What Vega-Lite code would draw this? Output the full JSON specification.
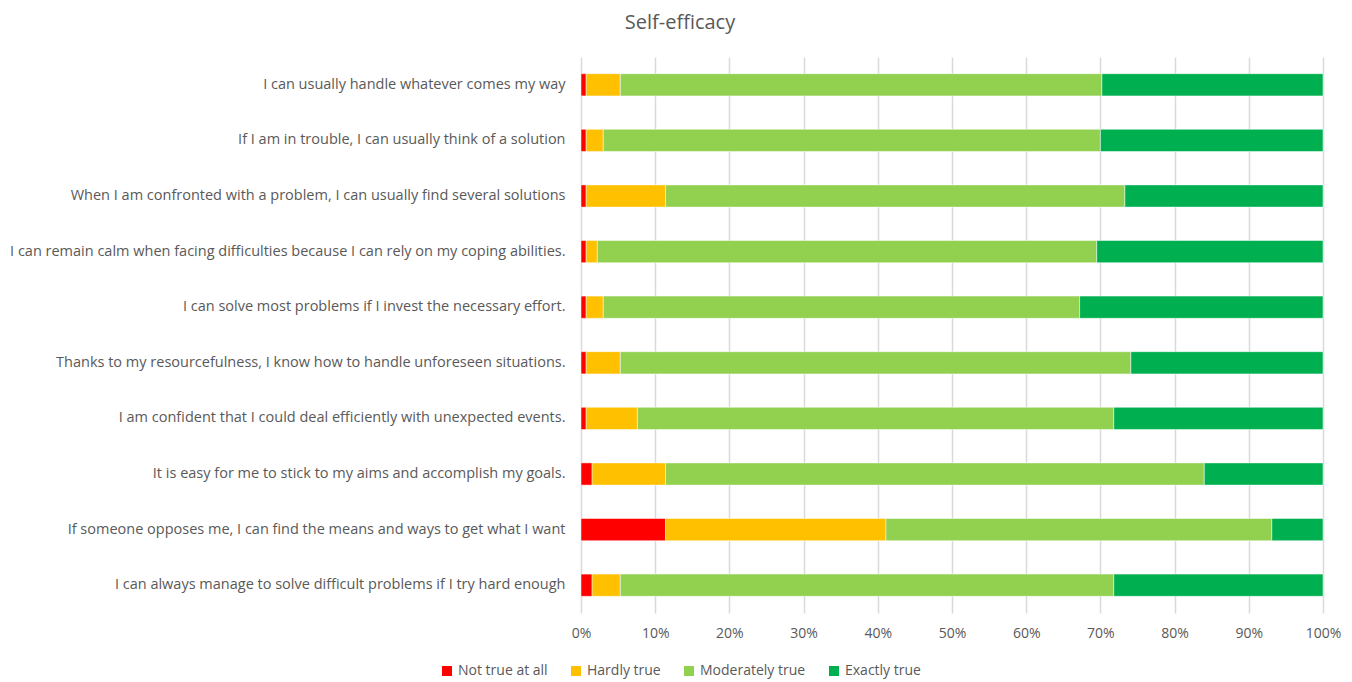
{
  "$schema": "https://vega.github.io/schema/vega-lite/v6.json",
  "width": 742,
  "height": 556,
  "autosize": {"type": "none"},
  "padding": {"left": 581, "top": 57, "right": 29, "bottom": 69},
  "background": "white",
  "title": {
    "text": "Self-efficacy",
    "font": "Open Sans",
    "fontSize": 20,
    "fontWeight": "normal",
    "color": "#595959",
    "anchor": "middle",
    "dx": -272,
    "offset": 24
  },
  "data": {
    "values": [
      {"item": "I can usually handle whatever comes my way ", "resp": "Not true at all", "o": 1, "pct": 0.7},
      {"item": "I can usually handle whatever comes my way ", "resp": "Hardly true", "o": 2, "pct": 4.6},
      {"item": "I can usually handle whatever comes my way ", "resp": "Moderately true", "o": 3, "pct": 64.9},
      {"item": "I can usually handle whatever comes my way ", "resp": "Exactly true", "o": 4, "pct": 29.8},
      {"item": "If I am in trouble, I can usually think of a solution", "resp": "Not true at all", "o": 1, "pct": 0.7},
      {"item": "If I am in trouble, I can usually think of a solution", "resp": "Hardly true", "o": 2, "pct": 2.3},
      {"item": "If I am in trouble, I can usually think of a solution", "resp": "Moderately true", "o": 3, "pct": 67.0},
      {"item": "If I am in trouble, I can usually think of a solution", "resp": "Exactly true", "o": 4, "pct": 30.0},
      {"item": "When I am confronted with a problem, I can usually find several solutions", "resp": "Not true at all", "o": 1, "pct": 0.7},
      {"item": "When I am confronted with a problem, I can usually find several solutions", "resp": "Hardly true", "o": 2, "pct": 10.7},
      {"item": "When I am confronted with a problem, I can usually find several solutions", "resp": "Moderately true", "o": 3, "pct": 61.9},
      {"item": "When I am confronted with a problem, I can usually find several solutions", "resp": "Exactly true", "o": 4, "pct": 26.7},
      {"item": "I can remain calm when facing difficulties because I can rely on my coping abilities.", "resp": "Not true at all", "o": 1, "pct": 0.7},
      {"item": "I can remain calm when facing difficulties because I can rely on my coping abilities.", "resp": "Hardly true", "o": 2, "pct": 1.5},
      {"item": "I can remain calm when facing difficulties because I can rely on my coping abilities.", "resp": "Moderately true", "o": 3, "pct": 67.3},
      {"item": "I can remain calm when facing difficulties because I can rely on my coping abilities.", "resp": "Exactly true", "o": 4, "pct": 30.5},
      {"item": "I can solve most problems if I invest the necessary effort.", "resp": "Not true at all", "o": 1, "pct": 0.7},
      {"item": "I can solve most problems if I invest the necessary effort.", "resp": "Hardly true", "o": 2, "pct": 2.3},
      {"item": "I can solve most problems if I invest the necessary effort.", "resp": "Moderately true", "o": 3, "pct": 64.2},
      {"item": "I can solve most problems if I invest the necessary effort.", "resp": "Exactly true", "o": 4, "pct": 32.8},
      {"item": "Thanks to my resourcefulness, I know how to handle unforeseen situations.", "resp": "Not true at all", "o": 1, "pct": 0.7},
      {"item": "Thanks to my resourcefulness, I know how to handle unforeseen situations.", "resp": "Hardly true", "o": 2, "pct": 4.6},
      {"item": "Thanks to my resourcefulness, I know how to handle unforeseen situations.", "resp": "Moderately true", "o": 3, "pct": 68.8},
      {"item": "Thanks to my resourcefulness, I know how to handle unforeseen situations.", "resp": "Exactly true", "o": 4, "pct": 25.9},
      {"item": "I am confident that I could deal efficiently with unexpected events.", "resp": "Not true at all", "o": 1, "pct": 0.7},
      {"item": "I am confident that I could deal efficiently with unexpected events.", "resp": "Hardly true", "o": 2, "pct": 6.9},
      {"item": "I am confident that I could deal efficiently with unexpected events.", "resp": "Moderately true", "o": 3, "pct": 64.2},
      {"item": "I am confident that I could deal efficiently with unexpected events.", "resp": "Exactly true", "o": 4, "pct": 28.2},
      {"item": "It is easy for me to stick to my aims and accomplish my goals.", "resp": "Not true at all", "o": 1, "pct": 1.5},
      {"item": "It is easy for me to stick to my aims and accomplish my goals.", "resp": "Hardly true", "o": 2, "pct": 9.9},
      {"item": "It is easy for me to stick to my aims and accomplish my goals.", "resp": "Moderately true", "o": 3, "pct": 72.6},
      {"item": "It is easy for me to stick to my aims and accomplish my goals.", "resp": "Exactly true", "o": 4, "pct": 16.0},
      {"item": "If someone opposes me, I can find the means and ways to get what I want", "resp": "Not true at all", "o": 1, "pct": 11.4},
      {"item": "If someone opposes me, I can find the means and ways to get what I want", "resp": "Hardly true", "o": 2, "pct": 29.7},
      {"item": "If someone opposes me, I can find the means and ways to get what I want", "resp": "Moderately true", "o": 3, "pct": 52.0},
      {"item": "If someone opposes me, I can find the means and ways to get what I want", "resp": "Exactly true", "o": 4, "pct": 6.9},
      {"item": "I can always manage to solve difficult problems if I try hard enough", "resp": "Not true at all", "o": 1, "pct": 1.5},
      {"item": "I can always manage to solve difficult problems if I try hard enough", "resp": "Hardly true", "o": 2, "pct": 3.8},
      {"item": "I can always manage to solve difficult problems if I try hard enough", "resp": "Moderately true", "o": 3, "pct": 66.5},
      {"item": "I can always manage to solve difficult problems if I try hard enough", "resp": "Exactly true", "o": 4, "pct": 28.2}
    ]
  },
  "mark": {"type": "bar", "stroke": "white", "strokeWidth": 0.5},
  "encoding": {
    "y": {
      "field": "item",
      "type": "nominal",
      "sort": null,
      "title": null,
      "scale": {"paddingInner": 0.6, "paddingOuter": 0.3},
      "axis": {
        "domain": false,
        "ticks": false,
        "labelPadding": 16,
        "labelFont": "Open Sans",
        "labelFontSize": 14.5,
        "labelColor": "#595959",
        "labelLimit": 600
      }
    },
    "x": {
      "field": "pct",
      "type": "quantitative",
      "stack": "normalize",
      "title": null,
      "scale": {"domain": [0, 1]},
      "axis": {
        "format": ".0%",
        "values": [0, 0.1, 0.2, 0.3, 0.4, 0.5, 0.6, 0.7, 0.8, 0.9, 1],
        "labelOverlap": false,
        "labelFlush": false,
        "domain": false,
        "ticks": false,
        "grid": true,
        "gridColor": "#D9D9D9",
        "gridWidth": 1.5,
        "labelPadding": 13,
        "labelFont": "Open Sans",
        "labelFontSize": 14,
        "labelColor": "#595959"
      }
    },
    "color": {
      "field": "resp",
      "type": "nominal",
      "title": null,
      "scale": {
        "domain": ["Not true at all", "Hardly true", "Moderately true", "Exactly true"],
        "range": ["#FF0000", "#FFC000", "#92D050", "#00B050"]
      },
      "legend": {
        "orient": "none",
        "direction": "horizontal",
        "legendX": -141,
        "legendY": 607,
        "symbolType": "square",
        "symbolSize": 100,
        "symbolStrokeWidth": 0,
        "labelOffset": 4,
        "columnPadding": 21,
        "labelFont": "Open Sans",
        "labelFontSize": 14,
        "labelColor": "#595959"
      }
    },
    "order": {"field": "o", "type": "quantitative"}
  },
  "config": {"view": {"stroke": null}}
}
